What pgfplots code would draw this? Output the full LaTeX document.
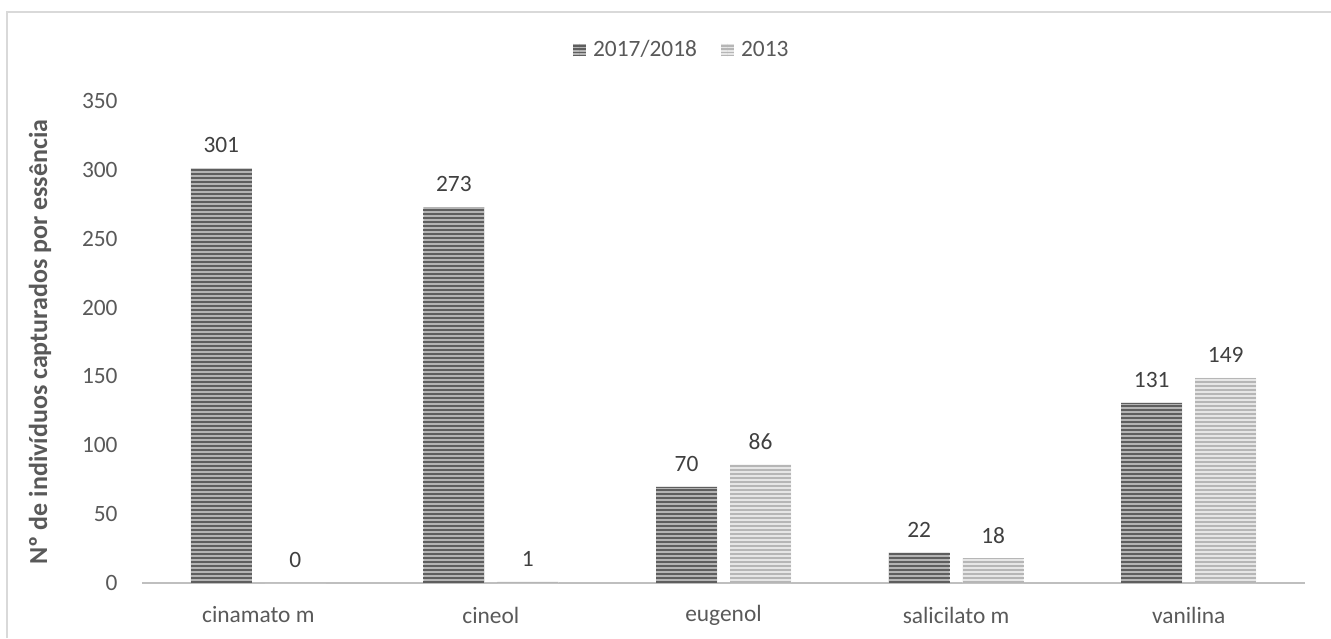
\documentclass[border=0pt]{standalone}
\usepackage{fontspec}
\setmainfont{Carlito}
\usepackage{pgfplots}
\pgfplotsset{compat=1.18}
\definecolor{tickgray}{HTML}{595959}
\definecolor{labgray}{HTML}{404040}
\definecolor{axgray}{HTML}{BFBFBF}
\definecolor{framegray}{HTML}{D9D9D9}
\definecolor{dBase}{HTML}{B4B4B4}
\definecolor{dLine}{HTML}{5E5E5E}
\definecolor{lBase}{HTML}{E6E6E6}
\definecolor{lLine}{HTML}{B6B6B6}
\newcommand{\tf}{\fontsize{11.7}{14}\selectfont}
\pgfplotstableread{
x dark light
0 301 0
1 273 1
2 70 86
3 22 18
4 131 149
}\datatab
\begin{document}
\begin{tikzpicture}
\useasboundingbox (-71pt,-27.5pt) rectangle (594.5pt,291.5pt);
\draw[framegray, line width=1pt] (-67.25pt,-27.5pt) -- (-67.25pt,285.5pt) -- (594.5pt,285.5pt);
\begin{axis}[
  name=ax, at={(0,0)}, anchor=south west,
  width=581.5pt, height=241pt, scale only axis,
  xmin=-0.5, xmax=4.5, ymin=0, ymax=350,
  xtick={0,1,2,3,4},
  xticklabels={cinamato m, cineol, eugenol, salicilato m, vanilina},
  ytick={0,50,...,350},
  major tick length=0pt,
  axis x line*=bottom, axis y line*=left,
  x axis line style={draw=axgray, line width=1pt, -},
  y axis line style={draw=none},
  xticklabel style={anchor=center, yshift=-16pt, text=tickgray, font=\tf},
  yticklabel style={anchor=east, inner sep=0pt, xshift=-12pt, text=tickgray, font=\tf},
  /pgf/number format/assume math mode=true,
  ylabel={Nº de indivíduos capturados por essência},
  every axis y label/.style={at={(axis description cs:-0.0877,0.5)}, rotate=90, anchor=center, text=tickgray, font=\fontsize{13}{15}\selectfont\bfseries},
  legend style={at={(axis description cs:0.4650,1)}, anchor=center, yshift=25.5pt, draw=none, text=tickgray, font=\tf,
     legend columns=-1, /tikz/every even column/.append style={column sep=10pt},
     /tikz/every odd column/.append style={column sep=1.5pt}},
  clip=false,
]
\addplot[ybar, bar width=30.5pt, bar shift=-18.5pt, draw=none, fill=dBase,
  legend image code/.code={\fill[dBase] (0pt,-3.2pt) rectangle (6.5pt,3.2pt);
    \draw[dLine, line width=6.5pt, dash pattern=on 0.8pt off 0.8pt] (3.25pt,-3.2pt) -- (3.25pt,3.2pt);},
  nodes near coords, every node near coord/.append style={anchor=center, xshift=-18.5pt, yshift=11.5pt, text=labgray, font=\tf}]
  table[x=x, y=dark] {\datatab};
\addlegendentry{2017/2018}
\addplot[ybar, bar width=30.5pt, bar shift=18.5pt, draw=none, fill=lBase,
  legend image code/.code={\fill[lBase] (0pt,-3.2pt) rectangle (6.5pt,3.2pt);
    \draw[lLine, line width=6.5pt, dash pattern=on 0.8pt off 0.8pt] (3.25pt,-3.2pt) -- (3.25pt,3.2pt);},
  nodes near coords, every node near coord/.append style={anchor=center, xshift=18.5pt, yshift=11.5pt, text=labgray, font=\tf}]
  table[x=x, y=light] {\datatab};
\addlegendentry{2013}
\addplot[ycomb, forget plot, mark=none, xshift=-18.5pt, draw=dLine, line width=30.5pt, dash pattern=on 1pt off 1pt]
  table[x=x, y=dark] {\datatab};
\addplot[ycomb, forget plot, mark=none, xshift=18.5pt, draw=lLine, line width=30.5pt, dash pattern=on 1pt off 1pt]
  table[x=x, y=light] {\datatab};
\end{axis}
\end{tikzpicture}
\end{document}
